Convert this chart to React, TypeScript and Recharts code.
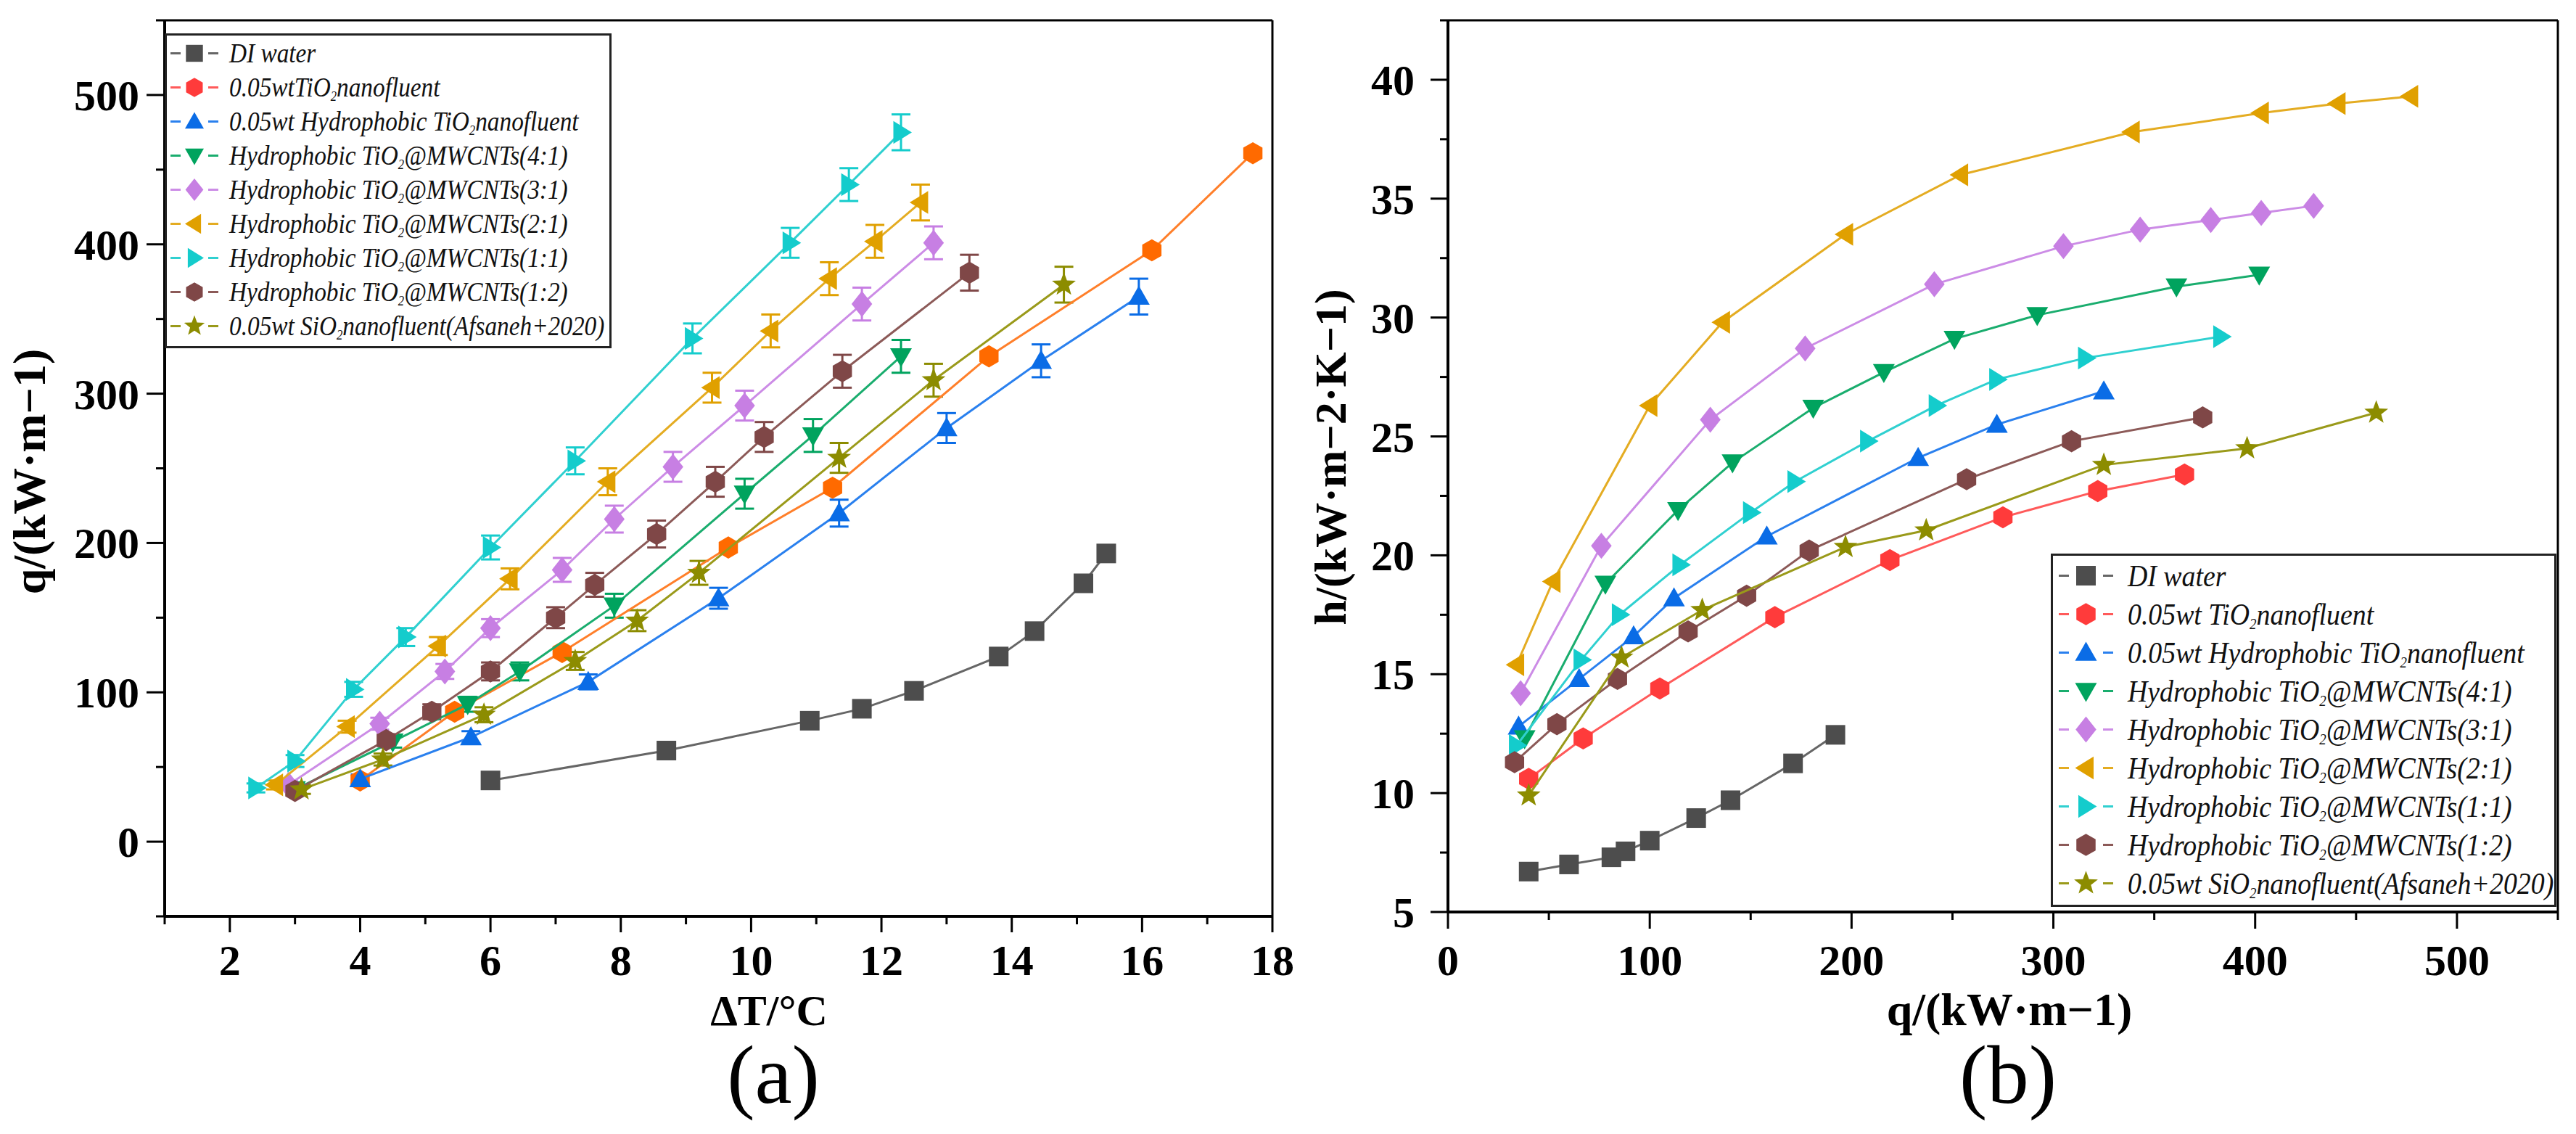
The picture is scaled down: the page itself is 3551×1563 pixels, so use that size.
import React from 'react';
import { ScatterChart, Scatter, XAxis, YAxis, ErrorBar, ReferenceLine, Legend } from 'recharts';

// ---------- panel (a): q vs ΔT ----------
const DI_A_X = [6.0, 8.7, 10.9, 11.7, 12.5, 13.8, 14.35, 15.1, 15.45];
const DI_A_Y = [41, 61, 81, 89, 101, 124, 141, 173, 193];
const TI_A_X = [4.0, 5.45, 7.1, 9.65, 11.25, 13.65, 16.15, 17.7];
const TI_A_Y = [41, 87, 127, 197, 237, 325, 396, 461];
const HYD_A_X = [4.0, 5.7, 7.5, 9.5, 11.35, 13.0, 14.45, 15.95];
const HYD_A_Y = [42, 70, 107, 163, 220, 277, 322, 365];
const HYD_A_E = [3, 4, 5, 7, 9, 10, 11, 12];
const C41_A_X = [3.0, 4.5, 5.65, 6.45, 7.9, 9.9, 10.95, 12.3];
const C41_A_Y = [35, 67, 92, 114, 158, 233, 272, 325];
const C41_A_E = [3, 4, 5, 6, 8, 10, 11, 11];
const C31_A_X = [2.9, 4.3, 5.3, 6.0, 7.1, 7.9, 8.8, 9.9, 11.7, 12.8];
const C31_A_Y = [38, 79, 114, 143, 182, 216, 251, 292, 360, 401];
const C31_A_E = [3, 4, 5, 6, 8, 9, 10, 10, 11, 11];
const C21_A_X = [2.7, 3.8, 5.2, 6.3, 7.8, 9.4, 10.3, 11.2, 11.9, 12.6];
const C21_A_Y = [38, 77, 131, 176, 241, 304, 342, 377, 402, 428];
const C21_A_E = [3, 4, 6, 7, 9, 10, 11, 11, 11, 12];
const C11_A_X = [2.4, 3.0, 3.9, 4.7, 6.0, 7.3, 9.1, 10.6, 11.5, 12.3];
const C11_A_Y = [36, 54, 102, 137, 197, 255, 337, 401, 440, 475];
const C11_A_E = [3, 4, 5, 6, 8, 9, 10, 10, 11, 12];
const C12_A_X = [3.0, 4.4, 5.1, 6.0, 7.0, 7.6, 8.55, 9.45, 10.2, 11.4, 13.35];
const C12_A_Y = [34, 68, 87, 114, 150, 172, 206, 241, 271, 315, 381];
const C12_A_E = [3, 4, 5, 6, 7, 8, 9, 10, 10, 11, 12];
const SI_A_X = [3.1, 4.35, 5.9, 7.3, 8.25, 9.2, 11.35, 12.8, 14.8];
const SI_A_Y = [35, 55, 85, 121, 148, 180, 257, 309, 373];
const SI_A_E = [3, 4, 5, 6, 7, 8, 10, 11, 12];

// ---------- panel (b): h vs q ----------
const DI_B_X = [40, 60, 81, 88, 100, 123, 140, 171, 192];
const DI_B_Y = [6.7, 7.0, 7.3, 7.55, 8.0, 8.95, 9.7, 11.25, 12.45];
const TI_B_X = [40, 67, 105, 162, 219, 275, 322, 365];
const TI_B_Y = [10.6, 12.3, 14.4, 17.4, 19.8, 21.6, 22.7, 23.4];
const HYD_B_X = [35, 65, 92, 112, 158, 233, 272, 325];
const HYD_B_Y = [12.8, 14.8, 16.6, 18.2, 20.8, 24.1, 25.5, 26.9];
const C41_B_X = [38, 78, 114, 141, 181, 216, 251, 292, 361, 402];
const C41_B_Y = [12.3, 18.8, 21.9, 23.9, 26.2, 27.7, 29.1, 30.1, 31.3, 31.8];
const C31_B_X = [36, 76, 130, 177, 241, 305, 343, 378, 403, 429];
const C31_B_Y = [14.2, 20.4, 25.7, 28.7, 31.4, 33.0, 33.7, 34.1, 34.4, 34.7];
const C21_B_X = [34, 52, 100, 136, 197, 254, 339, 403, 441, 477];
const C21_B_Y = [15.4, 18.9, 26.3, 29.8, 33.5, 36.0, 37.8, 38.6, 39.0, 39.3];
const C11_B_X = [34, 66, 85, 115, 150, 172, 208, 242, 272, 316, 383];
const C11_B_Y = [12.0, 15.6, 17.5, 19.6, 21.8, 23.1, 24.8, 26.3, 27.4, 28.3, 29.2];
const C12_B_X = [33, 54, 84, 119, 148, 179, 257, 309, 374];
const C12_B_Y = [11.3, 12.9, 14.8, 16.8, 18.3, 20.2, 23.2, 24.8, 25.8];
const SI_B_X = [40, 86, 126, 197, 237, 325, 396, 460];
const SI_B_Y = [9.9, 15.7, 17.7, 20.35, 21.05, 23.8, 24.5, 26.0];

// ---------- ticks ----------
const A_X_MAJOR = [2, 4, 6, 8, 10, 12, 14, 16, 18];
const A_X_MINOR = [1, 3, 5, 7, 9, 11, 13, 15, 17];
const A_Y_MAJOR = [0, 100, 200, 300, 400, 500];
const A_Y_MINOR = [-50, 50, 150, 250, 350, 450, 550];
const B_X_MAJOR = [0, 100, 200, 300, 400, 500];
const B_X_MINOR = [50, 150, 250, 350, 450, 550];
const B_Y_MAJOR = [5, 10, 15, 20, 25, 30, 35, 40];
const B_Y_MINOR = [7.5, 12.5, 17.5, 22.5, 27.5, 32.5, 37.5, 42.5];

const NAMES_A = [
  'DI water',
  '0.05wtTiO_2nanofluent',
  '0.05wt Hydrophobic TiO_2nanofluent',
  'Hydrophobic TiO_2@MWCNTs(4:1)',
  'Hydrophobic TiO_2@MWCNTs(3:1)',
  'Hydrophobic TiO_2@MWCNTs(2:1)',
  'Hydrophobic TiO_2@MWCNTs(1:1)',
  'Hydrophobic TiO_2@MWCNTs(1:2)',
  '0.05wt SiO_2nanofluent(Afsaneh+2020)',
];
const NAMES_B = [
  'DI water',
  '0.05wt TiO_2nanofluent',
  '0.05wt Hydrophobic TiO_2nanofluent',
  'Hydrophobic TiO_2@MWCNTs(4:1)',
  'Hydrophobic TiO_2@MWCNTs(3:1)',
  'Hydrophobic TiO_2@MWCNTs(2:1)',
  'Hydrophobic TiO_2@MWCNTs(1:1)',
  'Hydrophobic TiO_2@MWCNTs(1:2)',
  '0.05wt SiO_2nanofluent(Afsaneh+2020)',
];

const KINDS = ['square', 'hex', 'up', 'down', 'diamond', 'left', 'right', 'hex', 'star'];
const COLORS = ['#4d4d4d', '#ff3b3b', '#0a6ce6', '#00a35e', '#c77fe3', '#e0a000', '#14cccc', '#7f4747', '#8c8c00'];
const LINE_COLORS = ['#666666', '#ff5a5a', '#2a80ee', '#1aad6e', '#cc8ce6', '#e4ac22', '#30d0d0', '#8c5a58', '#9a9a1a'];
const SERIF = "'Liberation Serif', 'Times New Roman', serif";

const pts = (xs: number[], ys: number[], es?: number[]) =>
  xs.map((x, i) => ({ x, y: ys[i], e: es ? es[i] : 0 }));

const SERIES_A = [
  pts(DI_A_X, DI_A_Y), pts(TI_A_X, TI_A_Y), pts(HYD_A_X, HYD_A_Y, HYD_A_E),
  pts(C41_A_X, C41_A_Y, C41_A_E), pts(C31_A_X, C31_A_Y, C31_A_E), pts(C21_A_X, C21_A_Y, C21_A_E),
  pts(C11_A_X, C11_A_Y, C11_A_E), pts(C12_A_X, C12_A_Y, C12_A_E), pts(SI_A_X, SI_A_Y, SI_A_E),
];
const SERIES_B = [
  pts(DI_B_X, DI_B_Y), pts(TI_B_X, TI_B_Y), pts(HYD_B_X, HYD_B_Y),
  pts(C41_B_X, C41_B_Y), pts(C31_B_X, C31_B_Y), pts(C21_B_X, C21_B_Y),
  pts(C11_B_X, C11_B_Y), pts(C12_B_X, C12_B_Y), pts(SI_B_X, SI_B_Y),
];
const HAS_ERR_A = [false, false, true, true, true, true, true, true, true];

function markerPath(kind: string, cx: number, cy: number, s: number) {
  const h = s / 2;
  const poly = (p: number[][]) => 'M' + p.map(q => q[0] + ',' + q[1]).join('L') + 'Z';
  const ring = (n: number, r1: number, r2: number) => {
    const out: number[][] = [];
    for (let i = 0; i < n; i++) {
      const r = i % 2 === 0 ? r1 : r2;
      const a = -Math.PI / 2 + (i * Math.PI * 2) / n;
      out.push([cx + r * Math.cos(a), cy + r * Math.sin(a)]);
    }
    return out;
  };
  switch (kind) {
    case 'square':
      return poly([[cx - h * 0.9, cy - h * 0.9], [cx + h * 0.9, cy - h * 0.9], [cx + h * 0.9, cy + h * 0.9], [cx - h * 0.9, cy + h * 0.9]]);
    case 'up':
      return poly([[cx, cy - h], [cx + h, cy + h * 0.75], [cx - h, cy + h * 0.75]]);
    case 'down':
      return poly([[cx, cy + h], [cx + h, cy - h * 0.75], [cx - h, cy - h * 0.75]]);
    case 'left':
      return poly([[cx - h, cy], [cx + h * 0.7, cy - h * 1.05], [cx + h * 0.7, cy + h * 1.05]]);
    case 'right':
      return poly([[cx + h, cy], [cx - h * 0.7, cy - h * 1.05], [cx - h * 0.7, cy + h * 1.05]]);
    case 'diamond':
      return poly([[cx, cy - h * 1.2], [cx + h * 0.95, cy], [cx, cy + h * 1.2], [cx - h * 0.95, cy]]);
    case 'hex':
      return poly(ring(6, h * 1.02, h * 1.02));
    case 'star':
      return poly(ring(10, h * 1.15, h * 0.48));
    default:
      return '';
  }
}

const makeShape = (kind: string, color: string, s: number) => (p: any) =>
  <path d={markerPath(kind, p.cx, p.cy, s)} fill={color} />;

function Name({ text }: { text: string }) {
  const parts = text.split('_2');
  return (
    <>
      {parts.map((t, i) => (
        <React.Fragment key={i}>
          {t}
          {i < parts.length - 1 && <sub style={{ fontSize: '0.5em', verticalAlign: '-0.3em', lineHeight: 0 }}>2</sub>}
        </React.Fragment>
      ))}
    </>
  );
}

function LegendBox({ names, colors, rowH, font, squeeze, ms, lineL, lineR, textX, w, h }: any) {
  return (
    <div style={{ width: w, height: h, boxSizing: 'border-box', border: '3px solid #222', background: '#fff', paddingTop: 1 }}>
      {names.map((n: string, i: number) => (
        <div key={i} style={{ height: rowH, display: 'flex', alignItems: 'center', position: 'relative' }}>
          <svg width={textX} height={rowH} style={{ flex: 'none' }}>
            <line x1={lineL} x2={lineL + 14} y1={rowH / 2} y2={rowH / 2} stroke={LINE_COLORS[i]} strokeWidth={3} />
            <line x1={lineR - 14} x2={lineR} y1={rowH / 2} y2={rowH / 2} stroke={LINE_COLORS[i]} strokeWidth={3} />
            <path d={markerPath(KINDS[i], (lineL + lineR) / 2, rowH / 2, ms)} fill={colors[i]} />
          </svg>
          <span
            style={{
              display: 'inline-block', transform: `scaleX(${squeeze})`, transformOrigin: 'left center',
              fontFamily: SERIF, fontStyle: 'italic', fontSize: font, color: '#111', whiteSpace: 'nowrap', lineHeight: 1,
            }}
          >
            <Name text={n} />
          </span>
        </div>
      ))}
    </div>
  );
}

function makeXTick(majors: number[], majorLen: number, minorLen: number, labelDy: number) {
  return (p: any) => {
    const v = p.payload.value;
    const major = majors.includes(v);
    return (
      <g>
        <line x1={p.x} x2={p.x} y1={p.y} y2={p.y + (major ? majorLen : minorLen)} stroke="#000" strokeWidth={3} />
        {major && (
          <text x={p.x} y={p.y + labelDy} textAnchor="middle" fontFamily={SERIF} fontWeight="bold" fontSize={60} fill="#000">
            {v}
          </text>
        )}
      </g>
    );
  };
}

function makeYTick(majors: number[], majorLen: number, minorLen: number, labelDx: number) {
  return (p: any) => {
    const v = p.payload.value;
    const major = majors.includes(v);
    return (
      <g>
        <line x1={p.x} x2={p.x - (major ? majorLen : minorLen)} y1={p.y} y2={p.y} stroke="#000" strokeWidth={3} />
        {major && (
          <text x={p.x - labelDx} y={p.y + 21} textAnchor="end" fontFamily={SERIF} fontWeight="bold" fontSize={60} fill="#000">
            {v}
          </text>
        )}
      </g>
    );
  };
}

const sortNum = (a: number[]) => [...a].sort((p, q) => p - q);

export default function App() {
  const colorsA = COLORS.map((c, i) => (i === 1 ? '#ff6a00' : c));
  const lineColorsA = LINE_COLORS.map((c, i) => (i === 1 ? '#ff7f2a' : c));
  return (
    <div style={{ position: 'absolute', left: 0, top: 0, width: 3551, height: 1563, background: '#fff', overflow: 'hidden' }}>
      <div style={{ position: 'absolute', left: 0, top: 0 }}>
        <ScatterChart width={1800} height={1563} margin={{ top: 28, right: 46, bottom: 200, left: 127 }}>
          <XAxis
            type="number" dataKey="x" domain={[1, 18]} allowDataOverflow height={100}
            ticks={sortNum([...A_X_MAJOR, ...A_X_MINOR])} interval={0} tickSize={0} tickMargin={0}
            tick={makeXTick(A_X_MAJOR, 22, 11, 81)} tickLine={false}
            axisLine={{ stroke: '#000', strokeWidth: 4 }}
          />
          <YAxis
            type="number" dataKey="y" domain={[-50, 550]} allowDataOverflow width={100}
            ticks={sortNum([...A_Y_MAJOR, ...A_Y_MINOR])} interval={0} tickSize={0} tickMargin={0}
            tick={makeYTick(A_Y_MAJOR, 25, 12, 35)} tickLine={false}
            axisLine={{ stroke: '#000', strokeWidth: 4 }}
          />
          <ReferenceLine y={550} stroke="#000" strokeWidth={3} />
          <ReferenceLine x={18} stroke="#000" strokeWidth={3} />
          {SERIES_A.map((d, i) => (
            <Scatter
              key={i} data={d} name={NAMES_A[i]} isAnimationActive={false}
              line={{ stroke: lineColorsA[i], strokeWidth: 3 }}
              shape={makeShape(KINDS[i], colorsA[i], 30)}
            >
              {HAS_ERR_A[i] && (
                <ErrorBar dataKey="e" direction="y" width={13} stroke={colorsA[i]} strokeWidth={3} isAnimationActive={false} />
              )}
            </Scatter>
          ))}
          <Legend
            layout="vertical" align="center" verticalAlign="middle"
            wrapperStyle={{ left: 227, top: 46, width: 616, height: 434 }}
            content={() => (
              <LegendBox names={NAMES_A} colors={COLORS} rowH={47} font={37} squeeze={0.9} ms={26}
                lineL={5} lineR={71} textX={86} w={616} h={434} />
            )}
          />
        </ScatterChart>
      </div>

      <div style={{ position: 'absolute', left: 1800, top: 0 }}>
        <ScatterChart width={1751} height={1563} margin={{ top: 28, right: 25, bottom: 206, left: 96 }}>
          <XAxis
            type="number" dataKey="x" domain={[0, 550]} allowDataOverflow height={100}
            ticks={sortNum([...B_X_MAJOR, ...B_X_MINOR])} interval={0} tickSize={0} tickMargin={0}
            tick={makeXTick(B_X_MAJOR, 23, 11, 87)} tickLine={false}
            axisLine={{ stroke: '#000', strokeWidth: 4 }}
          />
          <YAxis
            type="number" dataKey="y" domain={[5, 42.5]} allowDataOverflow width={100}
            ticks={sortNum([...B_Y_MAJOR, ...B_Y_MINOR])} interval={0} tickSize={0} tickMargin={0}
            tick={makeYTick(B_Y_MAJOR, 24, 11, 46)} tickLine={false}
            axisLine={{ stroke: '#000', strokeWidth: 4 }}
          />
          <ReferenceLine y={42.5} stroke="#000" strokeWidth={3} />
          <ReferenceLine x={550} stroke="#000" strokeWidth={3} />
          {SERIES_B.map((d, i) => (
            <Scatter
              key={i} data={d} name={NAMES_B[i]} isAnimationActive={false}
              line={{ stroke: LINE_COLORS[i], strokeWidth: 3 }}
              shape={makeShape(KINDS[i], COLORS[i], 30)}
            />
          ))}
          <Legend
            layout="vertical" align="center" verticalAlign="middle"
            wrapperStyle={{ left: 1027, top: 763, width: 697, height: 487 }}
            content={() => (
              <LegendBox names={NAMES_B} colors={COLORS} rowH={53} font={42} squeeze={0.9} ms={30}
                lineL={8} lineR={83} textX={103} w={697} h={487} />
            )}
          />
        </ScatterChart>
      </div>

      <svg width={3551} height={1563} style={{ position: 'absolute', left: 0, top: 0, pointerEvents: 'none' }}>
        <g fontFamily={SERIF} fill="#000">
          <text x={62} y={650} transform="rotate(-90 62 650)" textAnchor="middle" fontWeight="bold" fontSize={64}>q/(kW·m−1)</text>
          <text x={1060} y={1413} textAnchor="middle" fontWeight="bold" fontSize={60}>ΔT/°C</text>
          <text x={1066} y={1520} textAnchor="middle" fontSize={115}>(a)</text>
          <text x={1855} y={630} transform="rotate(-90 1855 630)" textAnchor="middle" fontWeight="bold" fontSize={62}>h/(kW·m−2·K−1)</text>
          <text x={2770} y={1413} textAnchor="middle" fontWeight="bold" fontSize={64}>q/(kW·m−1)</text>
          <text x={2768} y={1520} textAnchor="middle" fontSize={115}>(b)</text>
        </g>
      </svg>
    </div>
  );
}
